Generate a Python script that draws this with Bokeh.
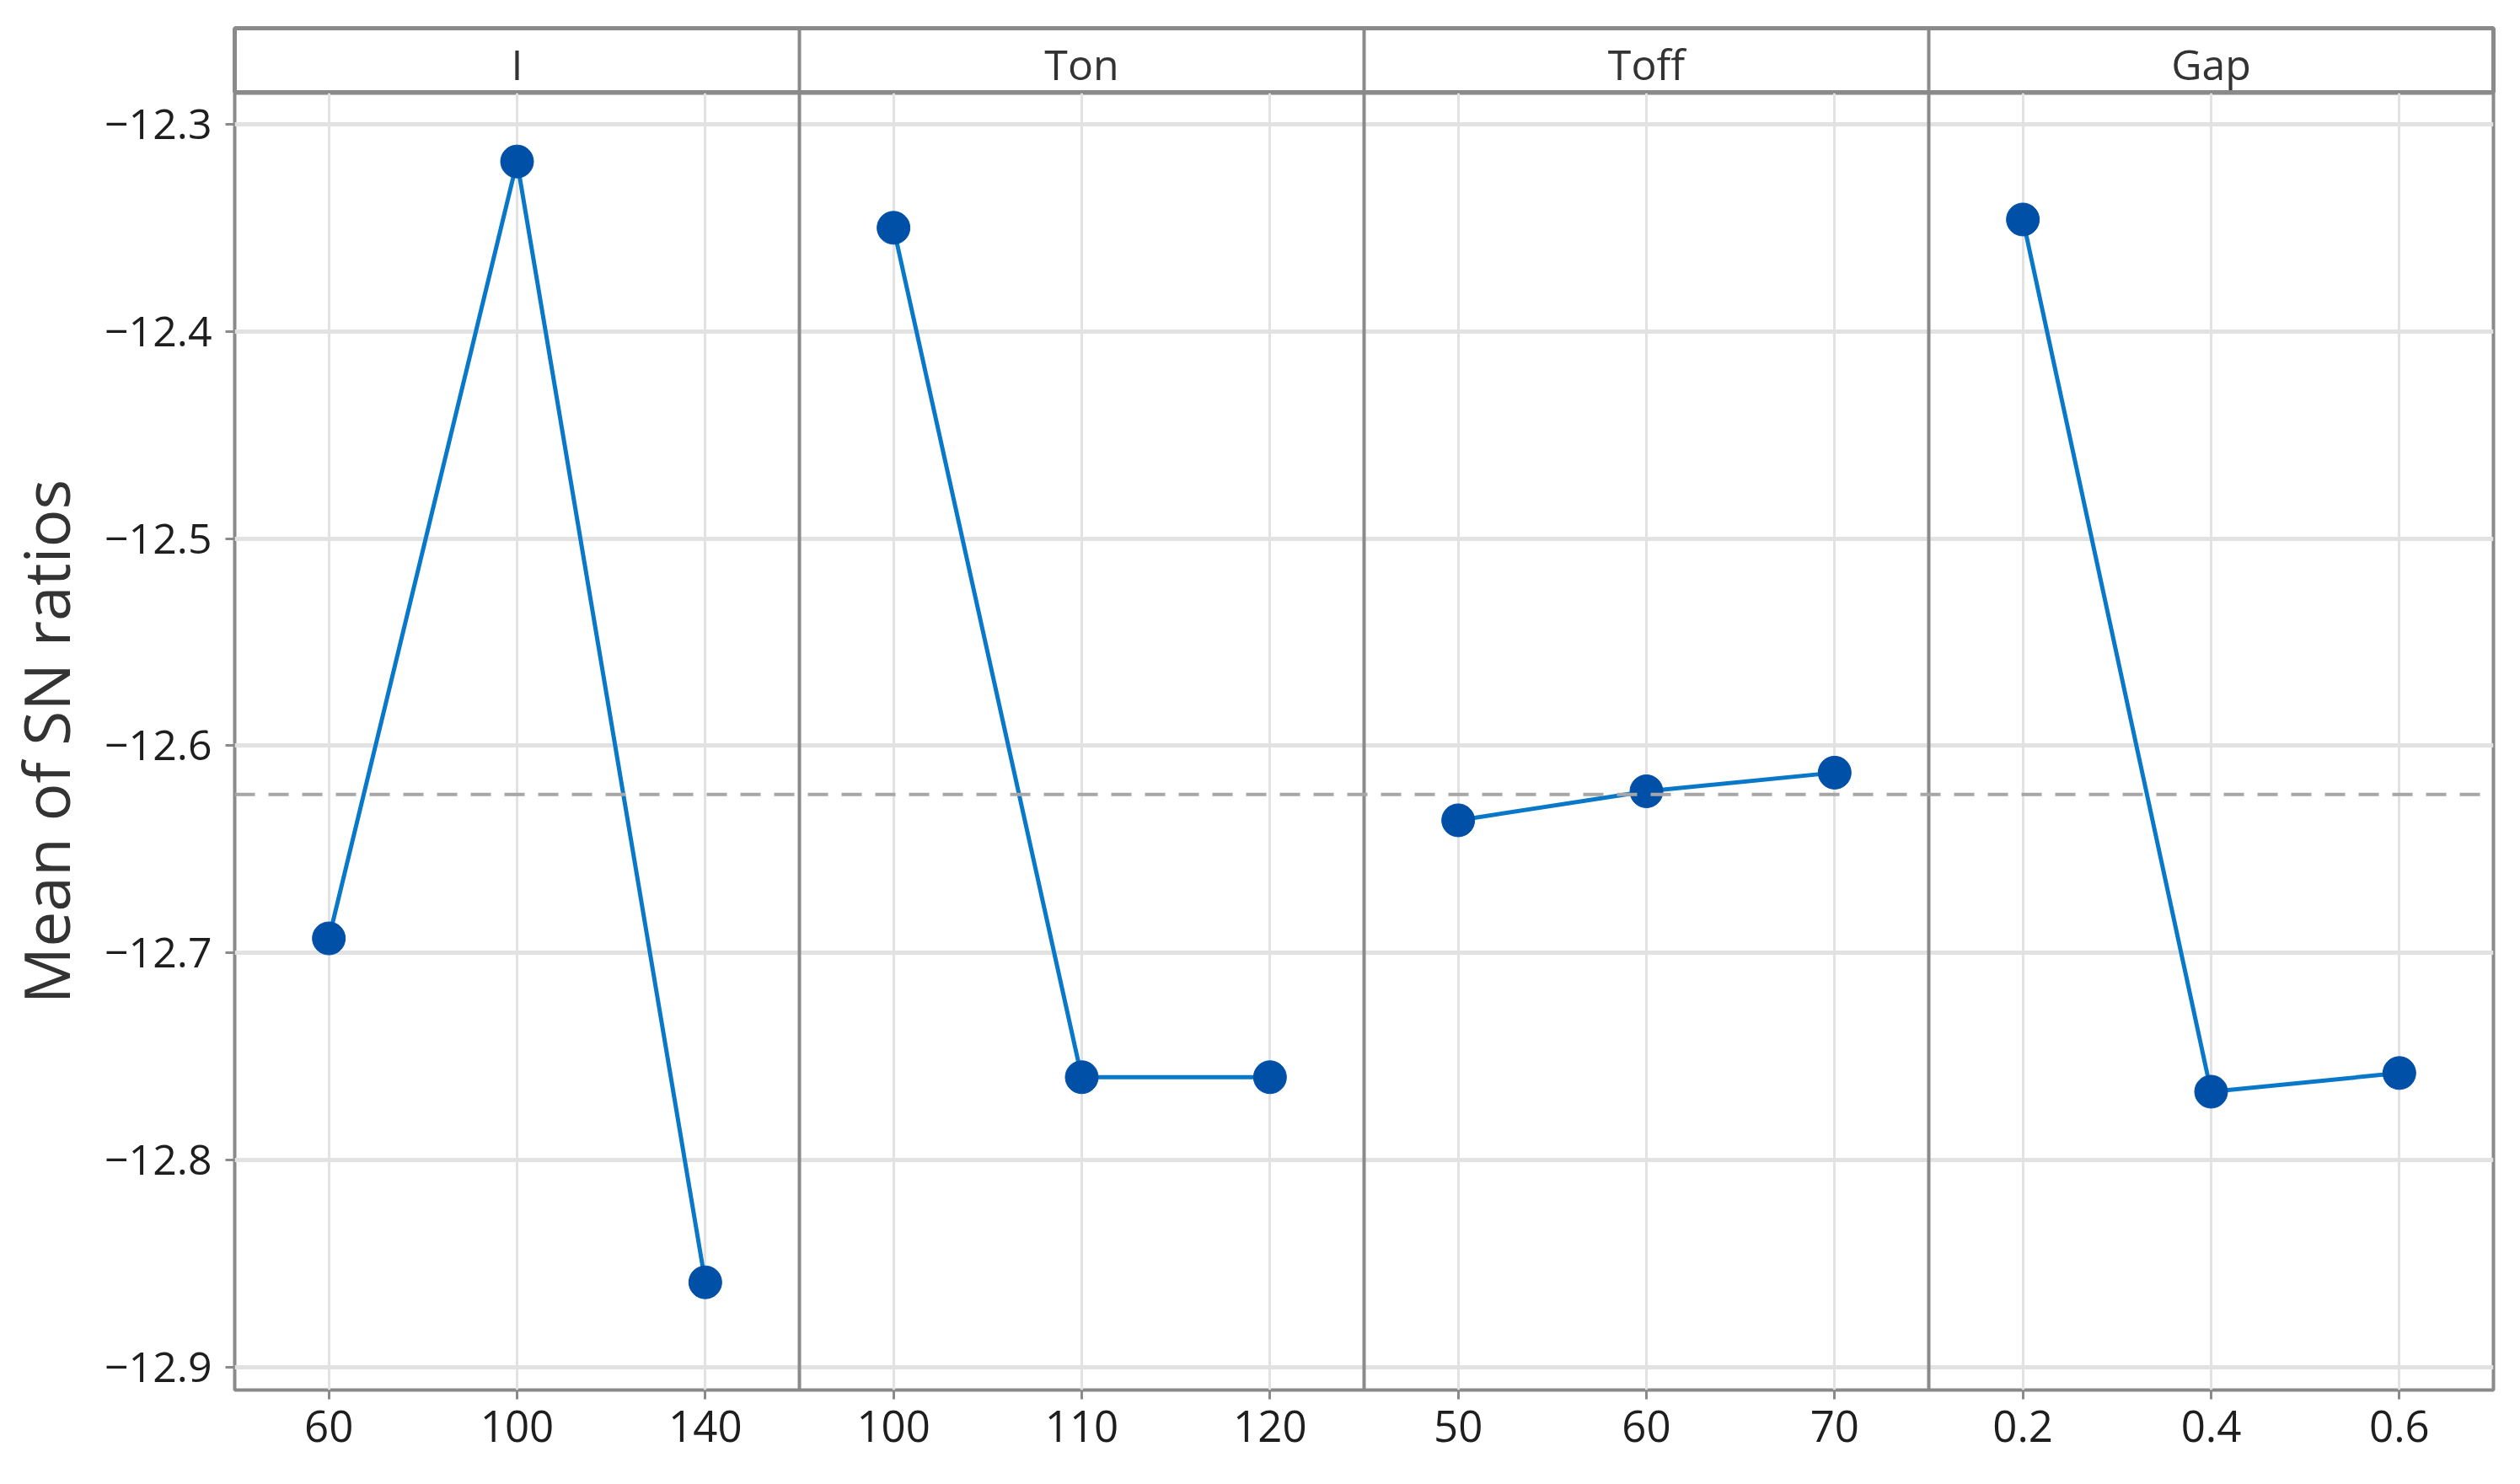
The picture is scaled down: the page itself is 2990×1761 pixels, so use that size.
from bokeh.plotting import figure
from bokeh.layouts import column
from bokeh.models import Range1d, FixedTicker, Span, LabelSet, ColumnDataSource
from bokeh.embed import file_html
from bokeh.resources import INLINE
from bokeh.core.properties import value
import numpy as np

# ---- data ----
factors = ["I", "Ton", "Toff", "Gap"]
I_levels = ["60", "100", "140"]
I_sn = [-12.693, -12.318, -12.859]
Ton_levels = ["100", "110", "120"]
Ton_sn = [-12.350, -12.760, -12.760]
Toff_levels = ["50", "60", "70"]
Toff_sn = [-12.636, -12.622, -12.613]
Gap_levels = ["0.2", "0.4", "0.6"]
Gap_sn = [-12.346, -12.767, -12.758]
y_ticks = [-12.9, -12.8, -12.7, -12.6, -12.5, -12.4, -12.3]
y_tick_labels = ["\u221212.9", "\u221212.8", "\u221212.7", "\u221212.6",
                 "\u221212.5", "\u221212.4", "\u221212.3"]

levels = [I_levels, Ton_levels, Toff_levels, Gap_levels]
series = [I_sn, Ton_sn, Toff_sn, Gap_sn]
overall_mean = float(np.mean(np.concatenate([np.array(s) for s in series])))

FONT = "Open Sans"
GRAY = "#8a8a8a"
GRID = "#e2e2e2"
LINE_C = "#0a78c8"
MARK_C = "#0050a8"
n_lv = 3

x_range = Range1d(0.5, n_lv * len(factors) + 0.5)
dividers = [k * n_lv + 0.5 for k in range(1, len(factors))]
centers = [k * n_lv + (n_lv + 1) / 2 for k in range(len(factors))]

FW = 2680
LEFT = 262
RIGHT = 28

# ---- strip header ----
ps = figure(x_range=x_range, y_range=Range1d(0, 1), frame_width=FW, frame_height=77,
            min_border_left=LEFT, min_border_right=RIGHT, min_border_top=33,
            min_border_bottom=0, toolbar_location=None, output_backend="svg")
ps.axis.visible = False
ps.grid.visible = False
ps.outline_line_color = GRAY
ps.outline_line_width = 5
ps.background_fill_color = "white"
for d in dividers:
    ps.add_layout(Span(location=d, dimension="height", line_color=GRAY, line_width=4))
strip_src = ColumnDataSource(dict(x=centers, y=[0.45] * len(factors), t=factors))
ps.add_layout(LabelSet(x="x", y="y", text="t", source=strip_src, text_align="center",
                       text_baseline="middle", text_font=value(FONT),
                       text_font_size="50px", text_color="#333333"))

# ---- main panel ----
p = figure(x_range=x_range, y_range=Range1d(-12.911, -12.285), frame_width=FW,
           frame_height=1539, min_border_left=LEFT, min_border_right=RIGHT,
           min_border_top=0, min_border_bottom=96, toolbar_location=None,
           output_backend="svg")

xticks = []
xlabels = {}
for k, lv in enumerate(levels):
    for j, lab in enumerate(lv):
        pos = k * n_lv + j + 1
        xticks.append(pos)
        xlabels[pos] = lab

p.xaxis.ticker = FixedTicker(ticks=xticks)
p.xaxis.major_label_overrides = xlabels
p.yaxis.ticker = FixedTicker(ticks=y_ticks)
p.yaxis.major_label_overrides = {t: l for t, l in zip(y_ticks, y_tick_labels)}

for ax in [p.xaxis[0], p.yaxis[0]]:
    ax.axis_line_color = None
    ax.major_tick_line_color = GRAY
    ax.major_tick_line_width = 3
    ax.major_tick_out = 11
    ax.major_tick_in = 0
    ax.minor_tick_line_color = None
    ax.major_label_text_font = FONT
    ax.major_label_text_color = "#1e1e1e"
p.yaxis.major_label_text_font_size = "50px"
p.yaxis.major_label_standoff = 16
p.xaxis.major_label_text_font_size = "51px"
p.xaxis.major_label_standoff = 13

p.yaxis.axis_label = "Mean of SN ratios"
p.yaxis.axis_label_text_font = FONT
p.yaxis.axis_label_text_font_size = "75px"
p.yaxis.axis_label_text_font_style = "normal"
p.yaxis.axis_label_text_color = "#333333"
p.yaxis.axis_label_standoff = 16

p.xgrid.grid_line_color = GRID
p.xgrid.grid_line_width = 3
p.ygrid.grid_line_color = GRID
p.ygrid.grid_line_width = 5
p.outline_line_color = GRAY
p.outline_line_width = 4

for d in dividers:
    p.add_layout(Span(location=d, dimension="height", line_color=GRAY, line_width=4))

p.add_layout(Span(location=overall_mean, dimension="width", line_color="#a6a6a6",
                  line_width=4, line_dash="24 16"))

for k, (lv, vals) in enumerate(zip(levels, series)):
    xs = [k * n_lv + j + 1 for j in range(len(lv))]
    p.line(xs, vals, line_color=LINE_C, line_width=5)
    p.scatter(xs, vals, marker="circle", size=39, fill_color=MARK_C, line_color=MARK_C)

layout = column(ps, p, spacing=0)
open("out.html", "w").write(file_html(layout, INLINE))
